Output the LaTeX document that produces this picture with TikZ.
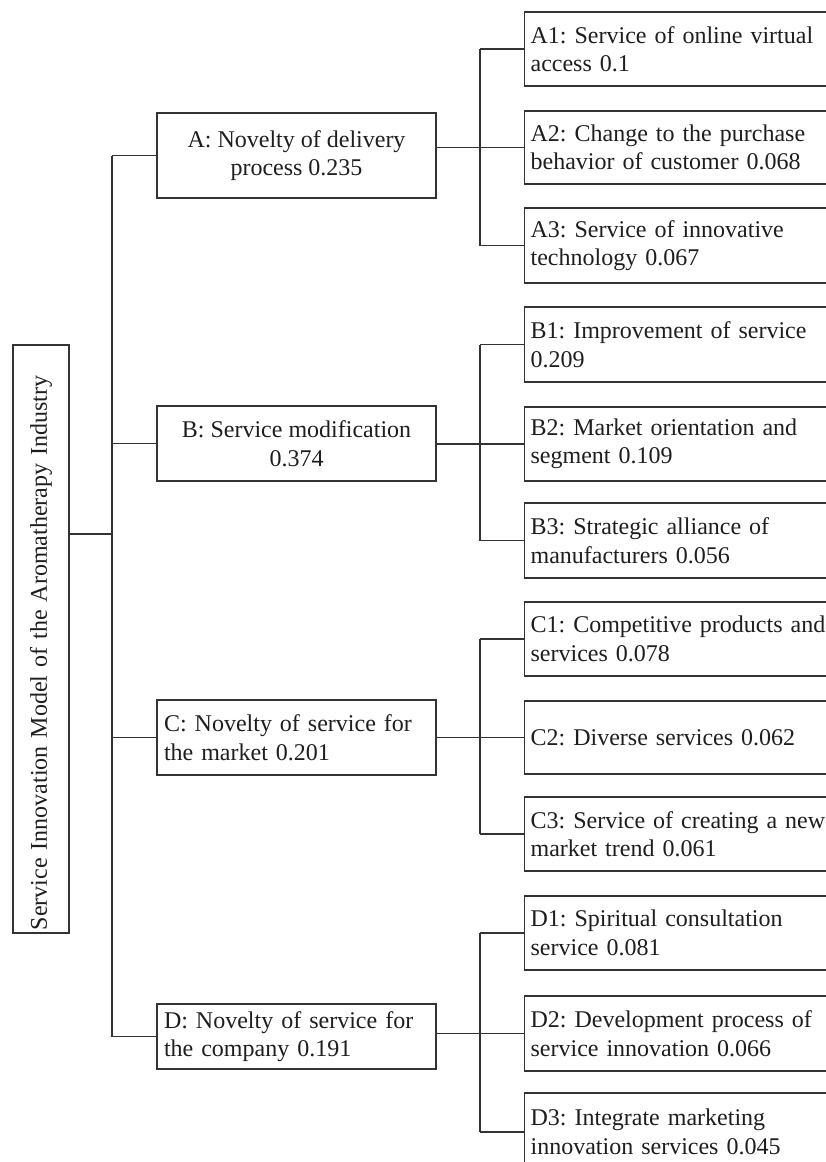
\documentclass[tikz,border=0pt]{standalone}
\usepackage{fontspec}
\setmainfont{Liberation Serif}
\definecolor{linec}{HTML}{333333}
\definecolor{txt}{HTML}{1E1E1E}
\frenchspacing
\begin{document}
\frenchspacing
\begin{tikzpicture}[x=1pt,y=-1pt,
  conn/.style={draw=linec, line width=1.2pt},
  box/.style={draw=linec, line width=1.2pt, rectangle, inner ysep=0pt, text=txt,
    font=\fontsize{24pt}{28.5pt}\selectfont\frenchspacing},
  midc/.style={box, minimum width=279pt, align=center, inner xsep=4pt},
  midl/.style={box, minimum width=279pt, text width=265pt, inner xsep=7pt, align=left},
  leaf/.style={box, anchor=west, text width=300pt, inner xsep=6pt, align=left}]
\useasboundingbox (0,0) rectangle (825,1162);

% root
\node[box, rotate=90, minimum width=588pt, minimum height=56pt, text width=582pt,
  inner xsep=3pt, align=left] (root) at (41,639)
  {Service Innovation Model of the Aromatherapy Industry};

% level 1
\node[midc, minimum height=85pt] (A) at (296.5,155.5) {A: Novelty of delivery\\process 0.235};
\node[midc, minimum height=75pt] (B) at (296.5,443.5) {B: Service modification\\0.374};
\node[midl, minimum height=75pt] (C) at (296.5,737.5) {C: Novelty of service for\\the market 0.201};
\node[midl, minimum height=65pt] (D) at (296.5,1036.5) {D: Novelty of service for\\the company 0.191};

% leaves
\node[leaf, minimum height=74pt] (A1) at (524,49) {A1: Service of online virtual\\access 0.1};
\node[leaf, minimum height=73pt] (A2) at (524,147.5) {A2: Change to the purchase\\behavior of customer 0.068};
\node[leaf, minimum height=75pt] (A3) at (524,245.5) {A3: Service of innovative\\technology 0.067};
\node[leaf, minimum height=75pt] (B1) at (524,344.5) {B1: Improvement of service\\0.209};
\node[leaf, minimum height=74pt] (B2) at (524,444) {B2: Market orientation and\\segment 0.109};
\node[leaf, minimum height=75pt] (B3) at (524,540.5) {B3: Strategic alliance of\\manufacturers 0.056};
\node[leaf, minimum height=74pt] (C1) at (524,639) {C1: Competitive products and\\services 0.078};
\node[leaf, minimum height=73pt] (C2) at (524,737.5) {C2: Diverse services 0.062};
\node[leaf, minimum height=74pt] (C3) at (524,834) {C3: Service of creating a new\\market trend 0.061};
\node[leaf, minimum height=74pt] (D1) at (524,933) {D1: Spiritual consultation\\service 0.081};
\node[leaf, minimum height=75pt] (D2) at (524,1033.5) {D2: Development process of\\service innovation 0.066};
\node[leaf, minimum height=78pt] (D3) at (524,1132) {D3: Integrate marketing\\innovation services 0.045};

% root connectors
\coordinate (rj) at (112,534);
\coordinate (gb) at (480,0);
\draw[conn] (root.south |- rj) -- (rj);
\draw[conn] (A.west -| rj) -- (D.west -| rj);
\foreach \n in {A,B,C,D} {
  \draw[conn] (\n.west -| rj) -- (\n.west);
}
\foreach \p in {A,B,C,D} {
  \draw[conn] (\p.east |- \p2.west) -- (\p2.west);
  \draw[conn] (\p1.west -| gb) -- (\p3.west -| gb);
  \draw[conn] (\p1.west -| gb) -- (\p1.west);
  \draw[conn] (\p3.west -| gb) -- (\p3.west);
}
\end{tikzpicture}
\end{document}
